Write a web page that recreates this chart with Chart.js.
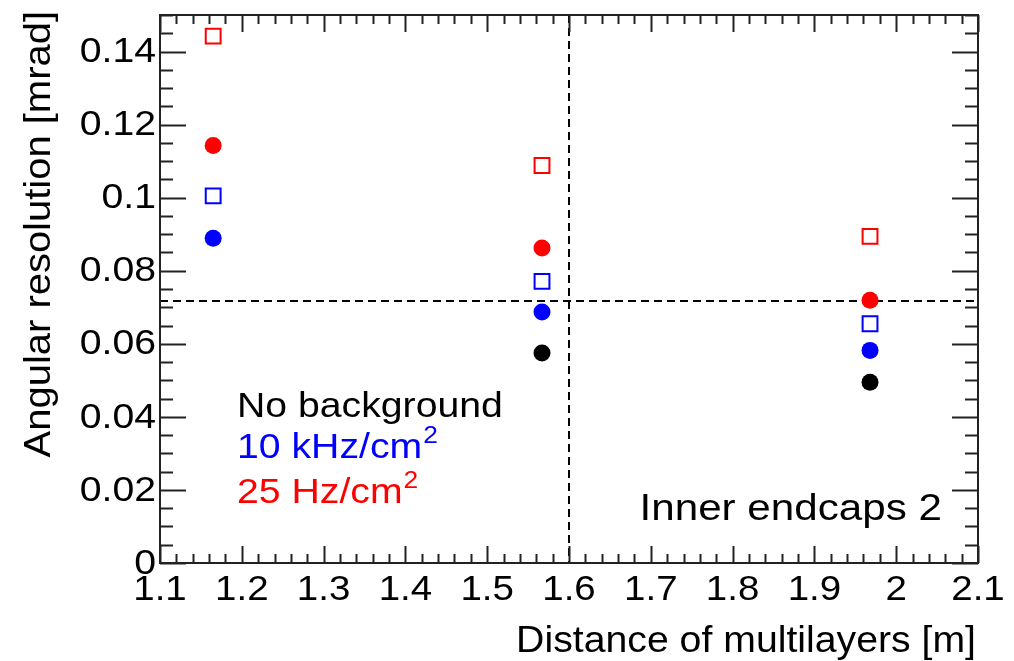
<!DOCTYPE html>
<html>
<head>
<meta charset="utf-8">
<script src="https://cdn.jsdelivr.net/npm/chart.js@4/dist/chart.umd.min.js"></script>
<style>
  html, body { margin: 0; padding: 0; background: #fff; }
  canvas { display: block; }
</style>
</head>
<body>
<canvas id="chart" width="1014" height="661"></canvas>
<script>
// ---- data ----
const xValues = [1.165, 1.567, 1.968];
const noBackground = [null, 0.0575, 0.0495];
const blue10kHzFilled = [0.0889, 0.0687, 0.0582];
const blue10kHzOpen = [0.1005, 0.0771, 0.0655];
const red25HzFilled = [0.1143, 0.0862, 0.0719];
const red25HzOpen = [0.1442, 0.1088, 0.0894];

const refX = 1.6;      // vertical dashed line
const refY = 0.0718;   // horizontal dashed line

const yTickValues = [0, 0.02, 0.04, 0.06, 0.08, 0.1, 0.12, 0.14];
const yTickLabels = ['0', '0.02', '0.04', '0.06', '0.08', '0.1', '0.12', '0.14'];
const xTickValues = [1.1, 1.2, 1.3, 1.4, 1.5, 1.6, 1.7, 1.8, 1.9, 2.0, 2.1];
const xTickLabels = ['1.1', '1.2', '1.3', '1.4', '1.5', '1.6', '1.7', '1.8', '1.9', '2', '2.1'];

const FONT = '"Liberation Sans", Arial, sans-serif';

const pts = (ys) => xValues.map((x, i) => ({ x: x, y: ys[i] }));

function filled(data, color) {
  return {
    data: pts(data), pointStyle: 'circle', pointRadius: 8.5, pointHoverRadius: 8.5,
    backgroundColor: color, borderColor: color, borderWidth: 0, showLine: false
  };
}
function open(data, color) {
  return {
    data: pts(data), pointStyle: 'rect', pointRadius: 10.5, pointHoverRadius: 10.5,
    backgroundColor: 'rgba(0,0,0,0)', borderColor: color, borderWidth: 2, showLine: false
  };
}

// text drawn a little wider than the font, like the original picture
function wideText(ctx, txt, x, y, align, sx) {
  ctx.save();
  ctx.translate(x, y);
  ctx.scale(sx, 1);
  ctx.textAlign = align;
  ctx.fillText(txt, 0, 0);
  const w = ctx.measureText(txt).width * sx;
  ctx.restore();
  return w;
}

// Frame, inner ticks, labels, dashed reference lines, texts
const rootStyle = {
  id: 'rootStyle',
  beforeDatasetsDraw(chart) {
    const { ctx, chartArea: a, scales: { x, y } } = chart;
    ctx.save();
    ctx.strokeStyle = '#000';
    ctx.lineWidth = 2;
    ctx.setLineDash([8, 5]);
    const px = Math.round(x.getPixelForValue(refX));
    const py = Math.round(y.getPixelForValue(refY));
    ctx.beginPath();
    ctx.moveTo(px, a.top); ctx.lineTo(px, a.bottom);
    ctx.moveTo(a.left, py); ctx.lineTo(a.right, py);
    ctx.stroke();
    ctx.restore();
  },
  afterDraw(chart) {
    const { ctx, chartArea: a, scales: { x, y } } = chart;
    ctx.save();
    ctx.strokeStyle = '#222';
    ctx.lineWidth = 2;
    ctx.strokeRect(a.left, a.top, a.right - a.left, a.bottom - a.top);

    // y ticks (major every 0.02, minor every 0.005), both sides
    ctx.beginPath();
    for (let i = 0; i <= 30; i++) {
      const v = i * 0.005;
      const p = Math.round(y.getPixelForValue(v)) + 0.5;
      const len = (i % 4 === 0) ? 26 : 13;
      ctx.moveTo(a.left, p); ctx.lineTo(a.left + len, p);
      ctx.moveTo(a.right, p); ctx.lineTo(a.right - len, p);
    }
    // x ticks (major every 0.1, minor every 0.02), bottom and top
    for (let i = 0; i <= 50; i++) {
      const v = 1.1 + i * 0.02;
      const p = Math.round(x.getPixelForValue(v)) + 0.5;
      const len = (i % 5 === 0) ? 17 : 9;
      ctx.moveTo(p, a.bottom); ctx.lineTo(p, a.bottom - len);
      ctx.moveTo(p, a.top); ctx.lineTo(p, a.top + len);
    }
    ctx.stroke();

    // tick labels
    ctx.fillStyle = '#000';
    ctx.font = '35px ' + FONT;
    ctx.textBaseline = 'middle';
    yTickValues.forEach((v, i) => {
      wideText(ctx, yTickLabels[i], a.left - 4, y.getPixelForValue(v) + 1, 'right', 1.12);
    });
    xTickValues.forEach((v, i) => {
      wideText(ctx, xTickLabels[i], x.getPixelForValue(v), a.bottom + 27, 'center', 1.1);
    });

    // axis titles
    ctx.font = '37px ' + FONT;
    ctx.textBaseline = 'alphabetic';
    wideText(ctx, 'Distance of multilayers [m]', a.right - 2, 652, 'right', 1.06);
    ctx.save();
    ctx.translate(50, 11);
    ctx.rotate(-Math.PI / 2);
    wideText(ctx, 'Angular resolution [mrad]', 0, 0, 'right', 1.08);
    ctx.restore();

    // legend texts
    const sup = (txt, color, xx, yy) => {
      ctx.fillStyle = color;
      ctx.font = '35px ' + FONT;
      const w = wideText(ctx, txt, xx, yy, 'left', 1.12);
      ctx.font = '24px ' + FONT;
      wideText(ctx, '2', xx + w + 1, yy - 15, 'left', 1.1);
    };
    ctx.fillStyle = '#000';
    ctx.font = '35px ' + FONT;
    wideText(ctx, 'No background', 237, 417, 'left', 1.12);
    sup('10 kHz/cm', '#0000ff', 237, 458);
    sup('25 Hz/cm', '#ff0000', 237, 503);

    ctx.fillStyle = '#000';
    ctx.font = '37px ' + FONT;
    wideText(ctx, 'Inner endcaps 2', 942, 520, 'right', 1.14);
    ctx.restore();
  }
};

new Chart(document.getElementById('chart'), {
  type: 'scatter',
  data: {
    datasets: [
      filled(noBackground, '#000000'),
      filled(blue10kHzFilled, '#0000ff'),
      open(blue10kHzOpen, '#0000ff'),
      filled(red25HzFilled, '#ff0000'),
      open(red25HzOpen, '#ff0000')
    ]
  },
  options: {
    responsive: false,
    animation: false,
    devicePixelRatio: 1,
    layout: { padding: { left: 160, top: 15, right: 36, bottom: 98 } },
    plugins: { legend: { display: false }, tooltip: { enabled: false } },
    scales: {
      x: { type: 'linear', min: 1.1, max: 2.1, display: false },
      y: { type: 'linear', min: 0, max: 0.15, display: false }
    }
  },
  plugins: [rootStyle]
});
</script>
</body>
</html>
